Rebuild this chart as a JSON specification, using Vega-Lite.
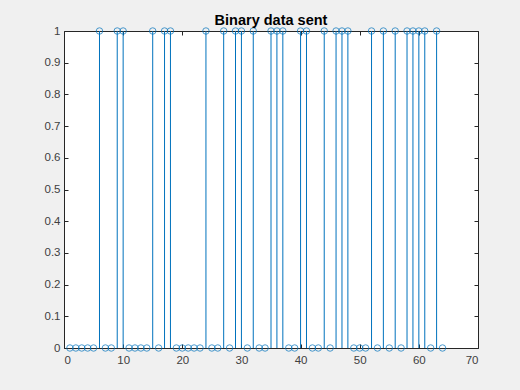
{
  "$schema": "https://vega.github.io/schema/vega-lite/v6.json",
  "autosize": {"type": "none"},
  "width": 414,
  "height": 317,
  "padding": {"left": 64, "top": 31, "right": 42, "bottom": 42},
  "background": "#f0f0f0",
  "title": {"text": "Binary data sent", "font": "Liberation Sans", "fontSize": 14.5, "fontWeight": "bold", "color": "#000000", "offset": -3, "anchor": "middle"},
  "config": {
    "view": {"fill": "#ffffff", "stroke": "#262626", "strokeWidth": 1},
    "axis": {"domain": false, "grid": false, "tickColor": "#262626", "tickSize": -4, "labelColor": "#404040", "labelFont": "Liberation Sans", "labelFontSize": 11.5, "title": null}
  },
  "data": {"values": [
    {"n": 1, "v": 0}, {"n": 2, "v": 0}, {"n": 3, "v": 0}, {"n": 4, "v": 0}, {"n": 5, "v": 0}, {"n": 6, "v": 1}, {"n": 7, "v": 0}, {"n": 8, "v": 0},
    {"n": 9, "v": 1}, {"n": 10, "v": 1}, {"n": 11, "v": 0}, {"n": 12, "v": 0}, {"n": 13, "v": 0}, {"n": 14, "v": 0}, {"n": 15, "v": 1}, {"n": 16, "v": 0},
    {"n": 17, "v": 1}, {"n": 18, "v": 1}, {"n": 19, "v": 0}, {"n": 20, "v": 0}, {"n": 21, "v": 0}, {"n": 22, "v": 0}, {"n": 23, "v": 0}, {"n": 24, "v": 1},
    {"n": 25, "v": 0}, {"n": 26, "v": 0}, {"n": 27, "v": 1}, {"n": 28, "v": 0}, {"n": 29, "v": 1}, {"n": 30, "v": 1}, {"n": 31, "v": 0}, {"n": 32, "v": 1},
    {"n": 33, "v": 0}, {"n": 34, "v": 0}, {"n": 35, "v": 1}, {"n": 36, "v": 1}, {"n": 37, "v": 1}, {"n": 38, "v": 0}, {"n": 39, "v": 0}, {"n": 40, "v": 1},
    {"n": 41, "v": 1}, {"n": 42, "v": 0}, {"n": 43, "v": 0}, {"n": 44, "v": 1}, {"n": 45, "v": 0}, {"n": 46, "v": 1}, {"n": 47, "v": 1}, {"n": 48, "v": 1},
    {"n": 49, "v": 0}, {"n": 50, "v": 0}, {"n": 51, "v": 0}, {"n": 52, "v": 1}, {"n": 53, "v": 0}, {"n": 54, "v": 1}, {"n": 55, "v": 0}, {"n": 56, "v": 1},
    {"n": 57, "v": 0}, {"n": 58, "v": 1}, {"n": 59, "v": 1}, {"n": 60, "v": 1}, {"n": 61, "v": 1}, {"n": 62, "v": 0}, {"n": 63, "v": 1}, {"n": 64, "v": 0}
  ]},
  "layer": [
    {
      "mark": {"type": "rule", "color": "#0072BD", "strokeWidth": 1},
      "encoding": {
        "x": {"field": "n", "type": "quantitative", "scale": {"domain": [0, 70], "nice": false}, "axis": {"values": [0, 10, 20, 30, 40, 50, 60, 70], "labelPadding": 10}},
        "y": {"field": "v", "type": "quantitative", "scale": {"domain": [0, 1], "nice": false}, "axis": {"values": [0, 0.1, 0.2, 0.3, 0.4, 0.5, 0.6, 0.7, 0.8, 0.9, 1], "format": "~g", "labelPadding": 8}},
        "y2": {"datum": 0}
      }
    },
    {
      "mark": {"type": "point", "shape": "circle", "filled": false, "color": "#0072BD", "size": 42, "strokeWidth": 1},
      "encoding": {
        "x": {"field": "n", "type": "quantitative", "axis": {"orient": "top", "values": [0, 10, 20, 30, 40, 50, 60, 70], "labels": false}},
        "y": {"field": "v", "type": "quantitative", "axis": {"orient": "right", "values": [0, 0.1, 0.2, 0.3, 0.4, 0.5, 0.6, 0.7, 0.8, 0.9, 1], "labels": false}}
      }
    }
  ],
  "resolve": {"axis": {"x": "independent", "y": "independent"}}
}
